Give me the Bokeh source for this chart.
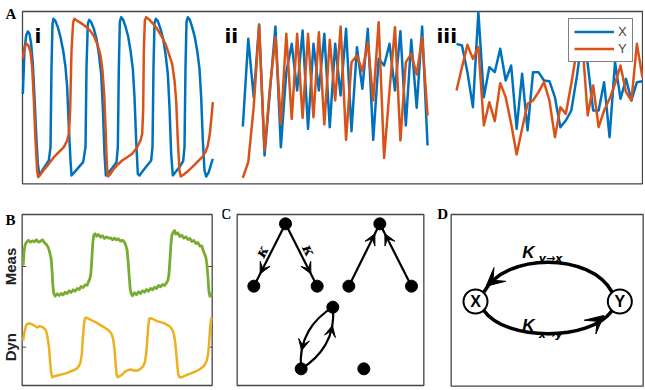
import numpy as np
from bokeh.plotting import figure
from bokeh.models import Range1d, Legend, LegendItem, Arrow, VeeHead
from bokeh.layouts import column, row
from bokeh.embed import file_html
from bokeh.resources import INLINE
from bokeh.core.properties import value

BLUE, ORANGE, GREEN, YELLOW = "#0072BD", "#D95319", "#77AC30", "#EDB120"
FRAME = "#444444"

# ---------------- Panel A data (signal units; larger = lower on plot) ----------
# sub-panel i : relaxation oscillations
i_tx = [67,72,77,82,87,92,97,102,107,112,117,125,135,145,150,153,156,159,165,172,
        180,188,195,200,205,210,213,222,235,248,255,258,262,266,272,280,288,295,302,307,
        312,316,325,337,348,352,355,358,362,368,375,383,390,397,402,407,412,417,428,440,
        452,456,459,462,466,472,480,488,495,502,507,512,517,527,538,548,552,555,558,562,
        568,575,583,590,597,602,607,612,617,625,632,637]
i_x = [280,150,105,93,100,130,190,290,400,490,525,510,495,480,440,200,70,55,62,80,
       110,150,200,260,380,480,525,515,500,485,440,200,70,58,65,85,115,160,220,320,
       460,525,515,500,485,440,200,65,50,58,78,108,150,205,290,420,520,525,510,495,
       480,440,200,68,55,62,85,115,160,220,320,460,525,512,498,482,440,200,65,50,
       58,80,110,150,205,290,420,510,528,515,490,475]
i_ty = [67,72,78,84,90,95,100,105,110,113,120,130,145,160,175,190,200,205,209,213,
        218,222,232,245,258,270,282,292,300,306,311,315,319,322,330,340,352,365,380,395,
        410,420,425,428,430,433,437,447,458,470,482,495,505,515,522,527,532,537,541,550,
        562,575,590,605,615,622,628,633,637]
i_y = [175,140,130,135,155,200,300,420,510,530,522,508,490,470,455,440,420,400,330,150,
       65,55,62,70,80,92,110,135,165,210,280,380,490,528,520,505,492,480,470,460,
       440,420,400,330,150,60,50,58,70,85,105,130,160,190,240,300,420,510,528,522,
       512,500,485,470,455,435,400,350,305]
# sub-panel ii : uniformly sampled
ii_x = [378,115,290,72,465,270,78,440,215,130,270,90,385,130,270,100,380,130,285,85,
        392,140,265,85,418,175,195,130,270,92,375,118,322,78,435]
ii_y = [532,485,320,75,450,260,110,370,100,355,100,352,100,350,95,372,118,300,78,418,
        185,165,212,125,300,65,472,270,80,420,185,160,222,110,345]
# sub-panel iii : uniformly sampled
iii_x = [130,135,215,320,35,290,200,215,145,240,195,385,220,390,215,215,240,242,290,380,
         360,330,230,110,190,330,330,245,410,185,295,235,300,245,242]
iii_y = [270,200,133,175,140,375,305,362,248,290,370,462,385,310,300,275,245,300,410,320,
         340,250,150,120,345,255,380,330,295,250,195,275,300,130,230]
sub_labels = ["i", "ii", "iii"]

# ---------------- Panel B data ----------------
b_tm = [68,71,74,78,84,90,96,102,108,114,120,126,132,138,144,148,152,155,157,160,
        164,170,176,182,188,194,200,206,212,218,224,230,236,242,248,254,260,264,268,271,
        274,277,280,284,288,294,300,306,312,318,324,330,336,342,348,354,360,366,372,376,
        380,383,386,389,392,396,402,408,414,420,426,432,438,444,450,456,462,468,474,480,
        486,492,498,502,505,508,511,514,518,522,526,532,538,544,550,556,562,568,574,580,
        586,592,598,604,608,612,616,619,622,625,628,632,635]
b_meas = [210,165,148,140,134,140,136,139,133,140,137,133,142,147,158,172,190,230,270,295,
          302,295,300,294,298,290,294,286,291,283,287,279,282,273,276,268,269,259,250,235,
          190,140,118,115,122,117,125,121,129,124,128,127,133,128,133,130,137,134,140,150,
          165,200,240,280,295,301,292,298,289,294,286,290,282,287,279,283,275,279,270,274,
          267,270,262,255,240,200,150,120,110,105,116,112,123,119,128,124,132,129,138,135,
          144,141,152,151,165,175,185,205,240,285,302,298,294]
b_td = [68,72,76,80,88,96,104,110,116,122,128,134,138,142,146,149,152,155,160,170,
        180,190,200,210,220,228,235,240,244,247,250,253,257,265,275,285,295,305,315,325,
        333,338,342,345,348,351,358,366,374,382,390,398,406,414,422,428,433,437,440,443,
        446,450,460,470,480,490,500,508,515,520,524,527,530,533,537,545,555,565,575,585,
        595,605,613,619,623,626,629,632,635]
b_dyn = [435,410,392,385,384,387,392,396,392,393,396,402,410,430,460,500,530,545,543,540,
         538,535,532,528,524,520,512,500,475,430,390,370,366,370,375,380,386,392,398,405,
         415,430,460,500,535,545,542,536,528,524,522,524,526,524,518,512,500,475,440,395,
         370,368,372,377,380,383,388,393,402,415,440,470,505,535,545,545,540,536,532,528,
         523,516,508,495,475,440,395,370,367]
b_ticks = [213, 455]
b_tick_labels = ["Meas", "Dyn"]

# ---------------- Panel C data (diagram units) ----------------
c_nx = [225,130,320,508,415,603,367,272,460]
c_ny = [85,272,272,85,272,272,335,520,520]
c_edges = [(0,1),(0,2),(4,3),(5,3)]
c_head_frac = [0.80,0.80,0.84,0.84]
c_kappa_x = [155,295]
c_kappa_y = [168,165]
c_lens = dict(x0=[367,367], y0=[335,335], x1=[272,272], y1=[520,520],
              cx0=[310,377], cy0=[370,425], cx1=[262,329], cy1=[430,485])

# ---------------- Panel D data (diagram units) ----------------
d_nx = [165,598]
d_ny = [318,318]
d_names = ["X","Y"]
d_arcs = dict(x0=[575,190], y0=[290,345], x1=[190,575], y1=[290,345],
              cx0=[510,255], cy0=[170,438], cx1=[255,510], cy1=[170,438])
d_heads = [((232,242),(197,272)), ((505,398),(550,360))]


def base_fig(w, h, xr, yr, box):
    """Figure whose frame is the whole canvas; the panel box is drawn as a quad."""
    p = figure(width=w, height=h, x_range=Range1d(*xr), y_range=Range1d(*yr),
               toolbar_location=None, output_backend="svg",
               x_axis_type=None, y_axis_type=None,
               min_border_left=0, min_border_right=0, min_border_top=0,
               min_border_bottom=0)
    p.xgrid.visible = False
    p.ygrid.visible = False
    p.outline_line_color = None
    p.background_fill_color = "white"
    p.border_fill_color = "white"
    l, r, t, b = box
    p.quad(left=[l], right=[r], top=[t], bottom=[b], fill_color=None,
           line_color=FRAME, line_width=1.3)
    return p


def letter(p, txt, x, y):
    p.text(x=[x], y=[y], text=[txt], text_font=value("Liberation Serif"),
           text_font_style="bold", text_font_size="15px", text_color="black",
           text_baseline="alphabetic")


# ---------------- Panel A ----------------
pA = base_fig(643, 203, (0, 1929), (609, 0), (66, 1926, 33, 550))
LW = 2.5
rX = pA.line(i_tx, i_x, line_color=BLUE, line_width=LW, line_join="round")
rY = pA.line(i_ty, i_y, line_color=ORANGE, line_width=LW, line_join="round")
ii_t = 645 + 82 + 16.3 * np.arange(len(ii_x))
iii_t = 1260 + 108 + 16.4 * np.arange(len(iii_x))
pA.line(ii_t, ii_x, line_color=BLUE, line_width=LW, line_join="round")
pA.line(ii_t, ii_y, line_color=ORANGE, line_width=LW, line_join="round")
pA.line(iii_t, iii_x, line_color=BLUE, line_width=LW, line_join="round")
pA.line(iii_t, iii_y, line_color=ORANGE, line_width=LW, line_join="round")
pA.text(x=[102, 672, 1308], y=[105, 105, 105], text=sub_labels,
        text_font=value("DejaVu Sans"), text_font_style="bold",
        text_font_size="20px", text_color="black", text_baseline="alphabetic")
leg = Legend(items=[LegendItem(label="X", renderers=[rX]),
                    LegendItem(label="Y", renderers=[rY])],
             location=(568, 141), orientation="vertical",
             label_text_font="Liberation Sans", label_text_font_size="13px",
             glyph_width=40, glyph_height=15, label_height=15, label_width=9,
             label_standoff=4, padding=5, spacing=2, margin=0,
             border_line_color="black", border_line_width=1,
             background_fill_color="white", background_fill_alpha=1)
pA.add_layout(leg)
letter(pA, "A", 15, 39)

# ---------------- Panel B ----------------
pB = base_fig(222, 184, (0, 666), (576, 24), (65, 635, 57, 570))
pB.segment(x0=[65]*2, y0=b_ticks, x1=[77]*2, y1=b_ticks, line_color=FRAME, line_width=1)
pB.segment(x0=[623]*2, y0=b_ticks, x1=[635]*2, y1=b_ticks, line_color=FRAME, line_width=1)
pB.line(b_tm, b_meas, line_color=GREEN, line_width=2.8, line_join="round")
pB.line(b_td, b_dyn, line_color=YELLOW, line_width=2.5, line_join="round")
pB.text(x=[30, 30], y=b_ticks, text=b_tick_labels, angle=np.pi / 2,
        text_font=value("Liberation Sans"), text_font_style="bold",
        text_font_size="15px", text_color="#222222", text_align="center",
        text_baseline="middle")
letter(pB, "B", 15, 72)

# ---------------- Panel C ----------------
pC = base_fig(214, 184, (36, 678), (576, 24), (80, 640, 57, 570))
for (a, b), f in zip(c_edges, c_head_frac):
    x0, y0, x1, y1 = c_nx[a], c_ny[a], c_nx[b], c_ny[b]
    pC.segment(x0, y0, x1, y1, line_color="black", line_width=2.2)
    tip = (x0 + f * (x1 - x0), y0 + f * (y1 - y0))
    tail = (x0 + (f - 0.1) * (x1 - x0), y0 + (f - 0.1) * (y1 - y0))
    pC.add_layout(Arrow(end=VeeHead(size=11, fill_color="black", line_color="black"),
                        x_start=tail[0], y_start=tail[1], x_end=tip[0], y_end=tip[1],
                        line_alpha=0))
pC.bezier(line_color="black", line_width=2.2, **c_lens)


def bez(i, t):
    P = [np.array([c_lens[k][i], c_lens[m][i]], float) for k, m in
         (("x0", "y0"), ("cx0", "cy0"), ("cx1", "cy1"), ("x1", "y1"))]
    return ((1 - t) ** 3 * P[0] + 3 * (1 - t) ** 2 * t * P[1]
            + 3 * (1 - t) * t ** 2 * P[2] + t ** 3 * P[3])


for i, (ttip, ttail) in enumerate([(0.78, 0.70), (0.22, 0.30)]):
    tp, tl = bez(i, ttip), bez(i, ttail)
    pC.add_layout(Arrow(end=VeeHead(size=11, fill_color="black", line_color="black"),
                        x_start=tl[0], y_start=tl[1], x_end=tp[0], y_end=tp[1],
                        line_alpha=0))
pC.scatter(c_nx, c_ny, size=12, fill_color="black", line_color="black")
pC.text(x=c_kappa_x, y=c_kappa_y, text=["κ", "κ"], angle=[1.10, -1.10],
        text_font=value("DejaVu Serif"), text_font_style="bold italic",
        text_font_size="15px", text_color="black", text_align="center",
        text_baseline="middle")
letter(pC, "C", 30, 54)

# ---------------- Panel D ----------------
pD = base_fig(208, 184, (48, 672), (576, 24), (92, 668, 57, 572))
pD.bezier(line_color="black", line_width=3.5, **d_arcs)
for tail, tip in d_heads:
    pD.add_layout(Arrow(end=VeeHead(size=18, fill_color="black", line_color="black"),
                        x_start=tail[0], y_start=tail[1], x_end=tip[0], y_end=tip[1],
                        line_alpha=0))
pD.scatter(d_nx, d_ny, size=24, fill_color="white", line_color="black", line_width=2)
pD.text(x=d_nx, y=d_ny, text=d_names, text_font=value("Liberation Sans"),
        text_font_style="bold", text_font_size="16px", text_color="black",
        text_align="center", text_baseline="middle")
pD.text(x=[305, 305], y=[170, 390], text=["K", "K"], text_font=value("Liberation Sans"),
        text_font_style="bold italic", text_font_size="17px", text_color="black",
        text_baseline="alphabetic")
pD.text(x=[355, 355], y=[190, 418], text=["y\u2192x", "x\u2192y"],
        text_font=value("DejaVu Sans"), text_font_style="bold italic",
        text_font_size="11px", text_color="black", text_baseline="alphabetic")
letter(pD, "D", 50, 54)

layout = column(pA, row(pB, pC, pD))
open("out.html", "w").write(file_html(layout, INLINE))
